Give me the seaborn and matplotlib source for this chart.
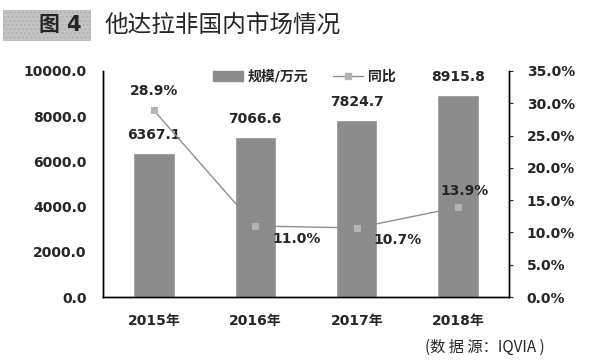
import matplotlib
matplotlib.use('Agg')
import matplotlib.pyplot as plt
import matplotlib.patches as mpatches
from matplotlib.lines import Line2D
from matplotlib.ticker import FuncFormatter, MultipleLocator
import seaborn as sns
import pandas as pd

years = ['2015年', '2016年', '2017年', '2018年']
scale = [6367.1, 7066.6, 7824.7, 8915.8]
growth = [28.9, 11.0, 10.7, 13.9]

sns.set_style('white')
plt.rcParams['font.family'] = ['DejaVu Sans', 'Noto Sans CJK SC']

BAR = '#8c8c8c'
LINE = '#8f8f8f'
MARK = '#b4b4b4'

df = pd.DataFrame({'year': years, 'scale': scale, 'growth': growth})

fig = plt.figure(figsize=(6, 3.64), dpi=100)
ax = fig.add_axes([0.172, 0.184, 0.676, 0.621])

sns.barplot(data=df, x='year', y='scale', color=BAR, width=0.41,
            saturation=1, ax=ax)
ax.set_ylim(0, 10000)
ax.yaxis.set_major_locator(MultipleLocator(2000))
ax.yaxis.set_major_formatter(FuncFormatter(lambda v, p: f'{v:.1f}'))
ax.set_xlabel('')
ax.set_ylabel('')
ax.tick_params(axis='y', length=0, pad=12, labelsize=10)
ax.tick_params(axis='x', length=0, pad=12, labelsize=10)
for lab in ax.get_xticklabels() + ax.get_yticklabels():
    lab.set_fontweight('bold')

for i, v in enumerate(scale):
    ax.annotate(f'{v:.1f}', (i, v), xytext=(0, 8), textcoords='offset points',
                ha='center', va='bottom', fontsize=10, fontweight='bold')

ax2 = ax.twinx()
ax2.set_position(ax.get_position())
sns.pointplot(data=df, x='year', y='growth', color=LINE, markers='s',
              markersize=4, linewidth=1, markerfacecolor=MARK,
              markeredgecolor=MARK, ax=ax2)
ax2.set_ylim(0, 35)
ax2.yaxis.set_major_locator(MultipleLocator(5))
ax2.yaxis.set_major_formatter(FuncFormatter(lambda v, p: f'{v:.1f}%'))
ax2.set_ylabel('')
ax2.set_xlabel('')
ax2.tick_params(axis='y', length=3, pad=10, labelsize=10, direction='out')
for lab in ax2.get_yticklabels():
    lab.set_fontweight('bold')

offsets = [(0, 9, 'center', 'bottom'), (12, -4, 'left', 'top'),
           (12, -4, 'left', 'top'), (5, 7, 'center', 'bottom')]
for i, v in enumerate(growth):
    dx, dy, ha, va = offsets[i]
    ax2.annotate(f'{v:.1f}%', (i, v), xytext=(dx, dy), textcoords='offset points',
                 ha=ha, va=va, fontsize=10, fontweight='bold')

for a in (ax, ax2):
    for s in ['left', 'right', 'bottom']:
        a.spines[s].set_visible(True)
        a.spines[s].set_color('black')
        a.spines[s].set_linewidth(1)
    a.spines['top'].set_visible(False)

handles = [mpatches.Patch(color=BAR, label='规模/万元'),
           Line2D([0], [0], color=LINE, marker='s', markersize=4, lw=1,
                  markerfacecolor=MARK, markeredgecolor=MARK, label='同比')]
leg = ax.legend(handles=handles, loc='upper center', bbox_to_anchor=(0.495, 1.06),
                ncol=2, frameon=False, handlelength=2.2, columnspacing=1.8,
                handletextpad=0.3, prop={'weight': 'bold', 'size': 10})

# title block
fig.patches.append(mpatches.Rectangle((0.005, 0.89), 0.145, 0.083, transform=fig.transFigure,
                                      facecolor='#c4c4c4', edgecolor='#b0b0b0',
                                      hatch='....', lw=0.5))
fig.text(0.10, 0.931, '图 4', ha='center', va='center', fontsize=15, fontweight='bold',
         family=['DejaVu Sans', 'Noto Sans CJK SC'])
fig.text(0.175, 0.931, '他达拉非国内市场情况', ha='left', va='center', fontsize=17,
         family=['Noto Sans CJK SC'])
fig.text(0.908, 0.045, '(数 据 源：IQVIA )', ha='right', va='center', fontsize=11,
         family=['Noto Sans CJK SC'])

fig.savefig('out.png', dpi=100)
